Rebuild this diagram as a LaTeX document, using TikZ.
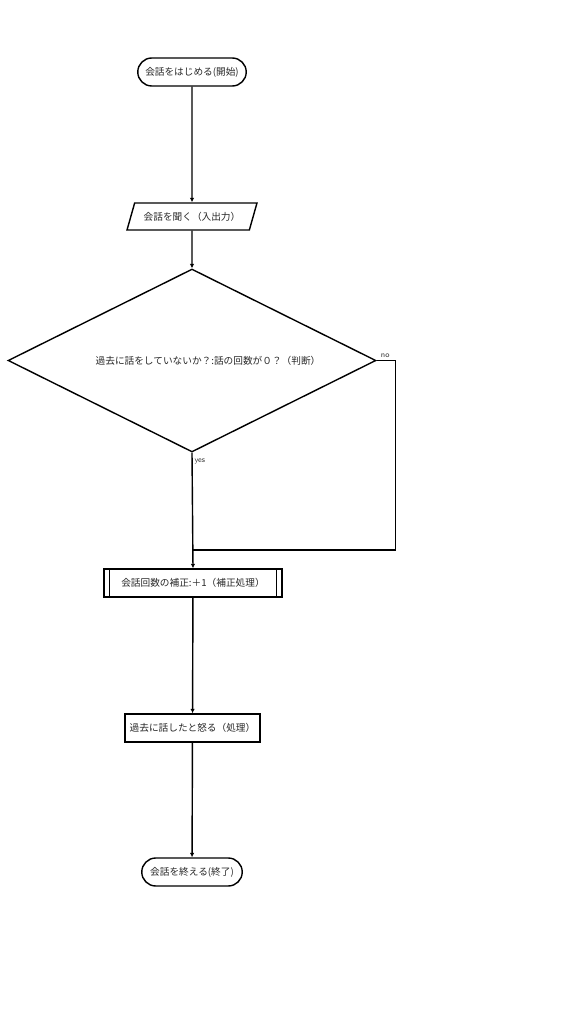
\documentclass[tikz,border=0pt]{standalone}
\usepackage{fontspec}
\newfontfamily\jp{Noto Sans CJK JP}
\usetikzlibrary{shapes.geometric,shapes.misc,arrows.meta}
\tikzset{
  box/.style={draw,line width=0.8pt,inner sep=1pt,font=\jp\fontsize{5.5}{6.5}\selectfont,text=black!85},
  term/.style={box,rounded rectangle,minimum height=0.56cm},
  io/.style={box,trapezium,trapezium left angle=59,trapezium right angle=121,trapezium stretches body,minimum width=2.6cm,minimum height=0.54cm},
  cond/.style={box,diamond,aspect=2,minimum width=7.36cm,minimum height=3.66cm,inner sep=0pt},
  proc/.style={box,rectangle,minimum height=0.56cm},
  flow/.style={line width=0.8pt,-{Latex[length=2.5pt,width=2.5pt]}},
  tag/.style={font=\sffamily\fontsize{4.5}{5}\selectfont,text=black!80,inner sep=1pt}
}
\begin{document}
\begin{tikzpicture}[x=0.02cm,y=-0.02cm]
  \useasboundingbox (0,0) rectangle (572,1024);
  % symbols
  \node[term,minimum width=2.24cm] (start) at (192,72) {会話をはじめる(開始)};
  \node[io] (listen) at (192,216.5) {会話を聞く（入出力）};
  \node[cond] (check) at (192,360.5) {};
  \node[box,draw=none] (checktext) at (208,361) {過去に話をしていないか？:話の回数が０？（判断）};
  \node[proc,minimum width=3.56cm] (count) at (193,583) {会話回数の補正:＋1（補正処理）};
  \draw[line width=0.8pt] ([xshift=6*0.02cm]count.north west) -- ([xshift=6*0.02cm]count.south west)
    ([xshift=-6*0.02cm]count.north east) -- ([xshift=-6*0.02cm]count.south east);
  \node[proc,minimum width=2.7cm] (angry) at (192.5,728) {過去に話したと怒る（処理）};
  \node[term,minimum width=2.08cm] (stop) at (192,872) {会話を終える(終了)};
  % flow
  \coordinate (merge) at (193,550);
  \draw[flow] (start) -- (listen);
  \draw[flow] (listen) -- (check);
  \draw[flow] (check.south) -- node[tag,pos=0.08,right] {yes} (count.north);
  \draw[line width=0.8pt] (check.east) -- ++(19,0) node[tag,pos=0.45,above] {no} |- (merge);
  \draw[flow] (count) -- (angry);
  \draw[flow] (angry) -- (stop);
\end{tikzpicture}
\end{document}
